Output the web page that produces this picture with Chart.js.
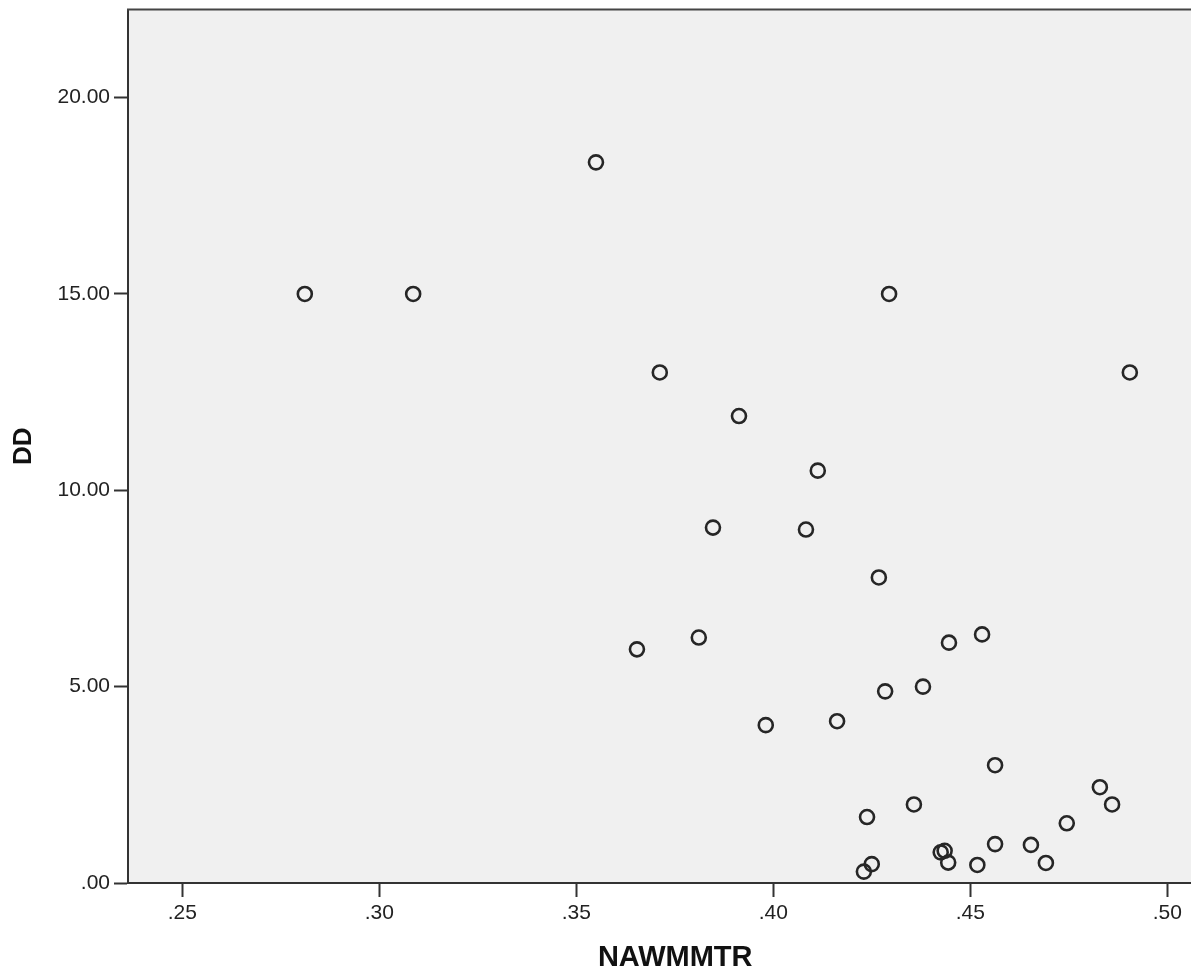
<!DOCTYPE html>
<html>
<head>
<meta charset="utf-8">
<script src="https://cdn.jsdelivr.net/npm/chart.js@4"></script>
<style>
  html, body { margin: 0; padding: 0; background: #fff; overflow: hidden; }
  canvas { display: block; }
</style>
</head>
<body>
<canvas id="scatter" width="1232" height="975"></canvas>
<script>
// values
const nawmmtr = [0.2811, 0.3086, 0.3550, 0.3712, 0.3913, 0.4113, 0.3847, 0.4083, 0.4268, 0.4294,
  0.4905, 0.3654, 0.3811, 0.4446, 0.4530, 0.4380, 0.4284, 0.3981, 0.4162, 0.4563,
  0.4357, 0.4238, 0.4829, 0.4860, 0.4745, 0.4654, 0.4563, 0.4425, 0.4435, 0.4444,
  0.4518, 0.4692, 0.4250, 0.4230];
const dd = [15.0, 15.0, 18.35, 13.0, 11.89, 10.5, 9.05, 9.0, 7.78, 15.0,
  13.0, 5.95, 6.25, 6.12, 6.33, 5.0, 4.88, 4.02, 4.12, 3.0,
  2.0, 1.68, 2.44, 2.0, 1.52, 0.97, 0.99, 0.78, 0.82, 0.52,
  0.46, 0.51, 0.48, 0.29];
const xTicks = [0.25, 0.30, 0.35, 0.40, 0.45, 0.50];
const yTicks = [0, 5, 10, 15, 20];

const points = nawmmtr.map((x, i) => ({ x: x, y: dd[i] }));

// strip the leading zero the way SPSS prints it (.25, .00)
function spssLabel(v) {
  let s = Number(v).toFixed(2);
  if (s.startsWith("0.")) s = s.slice(1);
  return s;
}

// grey plot background + top frame line
const plotFrame = {
  id: "plotFrame",
  beforeDraw(chart) {
    const { ctx, chartArea: a } = chart;
    ctx.save();
    ctx.fillStyle = "#f0f0f0";
    ctx.fillRect(a.left, a.top, a.right - a.left, a.bottom - a.top);
    ctx.restore();
  },
  afterDraw(chart) {
    const { ctx, chartArea: a } = chart;
    ctx.save();
    ctx.strokeStyle = "#444";
    ctx.lineWidth = 2;
    ctx.beginPath();
    ctx.moveTo(a.left - 1, a.top);
    ctx.lineTo(a.right, a.top);
    ctx.stroke();
    ctx.restore();
  }
};

const tickFont = { family: "'Liberation Sans', Arial, sans-serif", size: 21 };

new Chart(document.getElementById("scatter"), {
  type: "scatter",
  data: {
    datasets: [{
      data: points,
      backgroundColor: "rgba(0,0,0,0)",
      borderColor: "#262626",
      borderWidth: 2.6,
      pointRadius: 7,
      pointHoverRadius: 7
    }]
  },
  options: {
    responsive: false,
    animation: false,
    layout: { padding: { top: 8, right: 0, left: 0, bottom: 0 } },
    plugins: {
      legend: { display: false },
      tooltip: { enabled: false }
    },
    scales: {
      x: {
        type: "linear",
        min: 0.23622,
        max: 0.5140,
        afterBuildTicks: axis => { axis.ticks = xTicks.map(v => ({ value: v })); },
        afterFit: axis => {
          axis.height = 92;
          axis.paddingLeft = 0;
          axis.paddingRight = 0;
        },
        border: { display: true, color: "#333", width: 2 },
        grid: { drawOnChartArea: false, drawTicks: true, tickLength: 14, tickWidth: 2, tickColor: "#333" },
        ticks: { color: "#222", font: tickFont, padding: 4, maxRotation: 0, callback: v => spssLabel(v) },
        title: {
          display: true,
          text: "NAWMMTR",
          color: "#111",
          font: { family: "'Liberation Sans', Arial, sans-serif", size: 29, weight: "bold" },
          padding: { top: 3, bottom: 0 }
        }
      },
      y: {
        type: "linear",
        min: 0,
        max: 22.24,
        afterBuildTicks: axis => { axis.ticks = yTicks.map(v => ({ value: v })); },
        afterFit: axis => {
          axis.width = 128;
          axis.paddingTop = 0;
          axis.paddingBottom = 0;
        },
        border: { display: true, color: "#333", width: 2 },
        grid: { drawOnChartArea: false, drawTicks: true, tickLength: 14, tickWidth: 2, tickColor: "#333" },
        ticks: { color: "#222", font: tickFont, padding: 4, callback: v => spssLabel(v) },
        title: {
          display: true,
          text: "DD",
          color: "#111",
          font: { family: "'Liberation Sans', Arial, sans-serif", size: 26, weight: "bold" },
          padding: { top: 8, bottom: 0 }
        }
      }
    }
  },
  plugins: [plotFrame]
});
</script>
</body>
</html>
